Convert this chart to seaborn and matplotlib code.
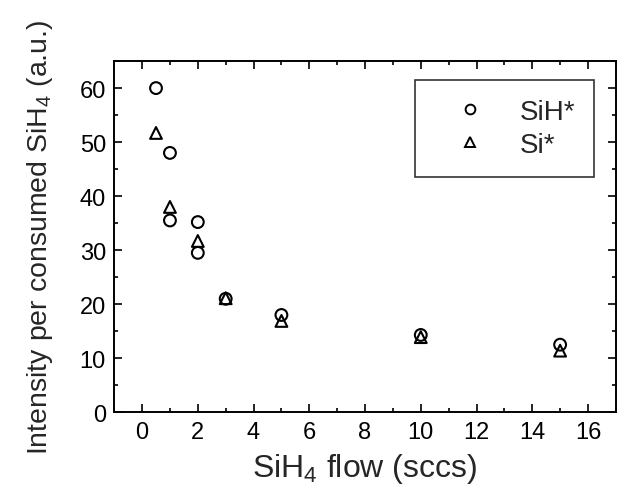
import matplotlib
matplotlib.use("Agg")
import matplotlib.pyplot as plt
from matplotlib.lines import Line2D
from matplotlib.ticker import MultipleLocator
import seaborn as sns
import pandas as pd

# SiH* emission intensity per consumed SiH4 (repeat runs at 1 and 2 sccm)
sih_flow = [0.5, 1, 1, 2, 2, 3, 5, 10, 15]
sih_intensity = [60.0, 48.0, 35.5, 35.2, 29.5, 21.0, 18.0, 14.3, 12.5]

# Si* emission intensity per consumed SiH4
si_flow = [0.5, 1, 2, 3, 5, 10, 15]
si_intensity = [51.7, 38.0, 31.7, 21.1, 16.9, 13.9, 11.4]

series_names = ["SiH*", "Si*"]
x_ticks = [0, 2, 4, 6, 8, 10, 12, 14, 16]
y_ticks = [0, 10, 20, 30, 40, 50, 60]

df = pd.concat([
    pd.DataFrame({"flow": sih_flow, "intensity": sih_intensity, "species": series_names[0]}),
    pd.DataFrame({"flow": si_flow, "intensity": si_intensity, "species": series_names[1]}),
], ignore_index=True)

sns.set_theme(style="ticks")
plt.rcParams["font.family"] = ["Liberation Sans", "DejaVu Sans"]
plt.rcParams["mathtext.fontset"] = "custom"
plt.rcParams["mathtext.rm"] = "Liberation Sans"
plt.rcParams["mathtext.it"] = "Liberation Sans"

fig = plt.figure(figsize=(6.31, 4.85), dpi=100)
ax = fig.add_axes([0.181, 0.148, 0.795, 0.724])

markers = {"SiH*": "o", "Si*": "^"}
sns.scatterplot(data=df, x="flow", y="intensity", style="species", markers=markers,
                s=72, facecolors="none", edgecolor="black", linewidth=1.5,
                legend=False, ax=ax)

ax.set_xlim(-1, 17)
ax.set_ylim(0, 65)
ax.set_xticks(x_ticks)
ax.set_yticks(y_ticks)
ax.xaxis.set_minor_locator(MultipleLocator(1))
ax.yaxis.set_minor_locator(MultipleLocator(5))
ax.tick_params(which="both", direction="in", top=True, right=True, colors="black",
               labelsize=17, width=1.2)
ax.tick_params(which="major", length=6, pad=6)
ax.tick_params(which="minor", length=3)
for sp in ax.spines.values():
    sp.set_linewidth(1.4)
    sp.set_color("black")

ax.set_xlabel("SiH$_4$ flow (sccs)", fontsize=23, labelpad=6)
ax.set_ylabel("Intensity per consumed SiH$_4$ (a.u.)", fontsize=20.5, labelpad=18)

handles = [Line2D([], [], linestyle="none", marker=markers[n], markersize=7,
                  markerfacecolor="none", markeredgecolor="black", markeredgewidth=1.4)
           for n in series_names]
leg = ax.legend(handles, series_names, loc="upper right", bbox_to_anchor=(0.9565, 0.9464),
                borderaxespad=0, fontsize=20, frameon=True, fancybox=False,
                edgecolor="black", handletextpad=0.5, borderpad=0.68,
                labelspacing=0.26, handlelength=2.6)
leg.get_frame().set_linewidth(1.2)

fig.savefig("out.png", dpi=100, facecolor="white")
